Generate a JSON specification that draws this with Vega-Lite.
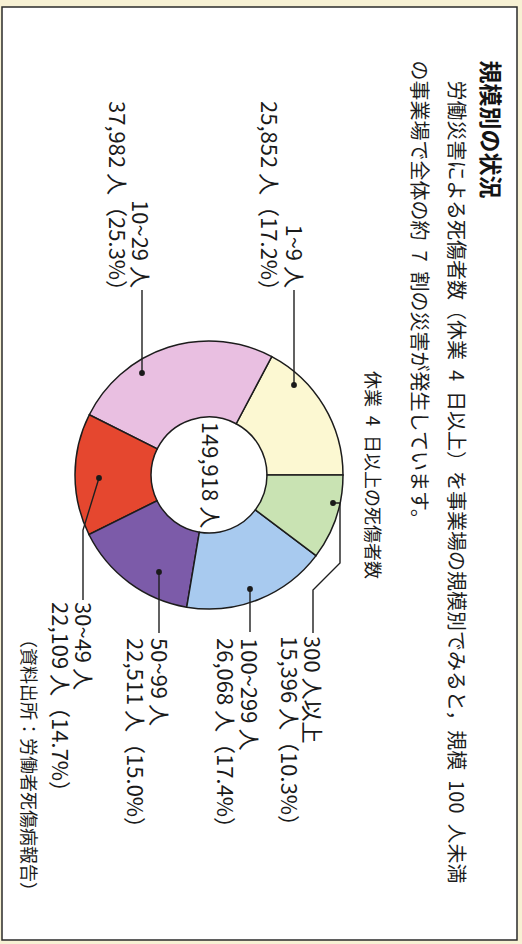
{
  "$schema": "https://vega.github.io/schema/vega-lite/v6.json",
  "width": 515,
  "height": 933,
  "autosize": {"type": "none"},
  "padding": {"left": 2, "top": 7, "right": 5, "bottom": 4},
  "background": "#f7f1d4",
  "config": {
    "view": {"fill": "#ffffff", "stroke": "#2b2b2b", "strokeWidth": 1.5},
    "font": "Noto Sans CJK JP",
    "text": {"font": "Noto Sans CJK JP", "color": "#1a1a1a"}
  },
  "title": {
    "text": "規模別の状況",
    "subtitle": [
      "\u200b\u3000労働災害による死傷者数（休業\u20024\u2002日以上）を事業場の規模別でみると，規模\u2002100\u2002人未満",
      "の事業場で全体の約\u20027\u2002割の災害が発生しています。"
    ],
    "orient": "right",
    "anchor": "start",
    "frame": "group",
    "offset": -109,
    "dx": 53.5,
    "font": "Noto Sans CJK JP",
    "fontSize": 23,
    "fontWeight": "bold",
    "color": "#141414",
    "subtitleFont": "Noto Sans CJK JP",
    "subtitleFontSize": 20,
    "subtitleColor": "#1c1c1c",
    "subtitleLineHeight": 37,
    "subtitlePadding": 12
  },
  "datasets": {
    "slices": [
      {"rank": 1, "size": "1~9 人", "count": 25852, "pct": 17.2, "label": "25,852 人（17.2%）"},
      {"rank": 2, "size": "10~29 人", "count": 37982, "pct": 25.3, "label": "37,982 人（25.3%）"},
      {"rank": 3, "size": "30~49 人", "count": 22109, "pct": 14.7, "label": "22,109 人（14.7%）"},
      {"rank": 4, "size": "50~99 人", "count": 22511, "pct": 15.0, "label": "22,511 人（15.0%）"},
      {"rank": 5, "size": "100~299 人", "count": 26068, "pct": 17.4, "label": "26,068 人（17.4%）"},
      {"rank": 6, "size": "300 人以上", "count": 15396, "pct": 10.3, "label": "15,396 人（10.3%）"}
    ],
    "leaders": [
      {"size": "1~9 人", "v": 1}, {"size": "1~9 人", "v": 2},
      {"size": "10~29 人", "v": 3}, {"size": "10~29 人", "v": 4},
      {"size": "30~49 人", "v": 5}, {"size": "30~49 人", "v": 6}, {"size": "30~49 人", "v": 7},
      {"size": "50~99 人", "v": 8}, {"size": "50~99 人", "v": 9},
      {"size": "100~299 人", "v": 10}, {"size": "100~299 人", "v": 11},
      {"size": "300 人以上", "v": 12}, {"size": "300 人以上", "v": 13}, {"size": "300 人以上", "v": 14},
      {"size": "300 人以上", "v": 15}, {"size": "300 人以上", "v": 16}
    ],
    "total": [{"text": "149,918 人"}],
    "notes": [{"text": "休業\u20024\u2002日以上の死傷者数"}],
    "source": [{"text": "（資料出所：労働者死傷病報告）"}]
  },
  "resolve": {"scale": {"x": "independent", "y": "independent"}},
  "layer": [
    {
      "data": {"name": "slices"},
      "encoding": {
        "x": {"datum": 0.40194, "type": "quantitative", "scale": {"domain": [0, 1], "zero": false, "nice": false}, "axis": null},
        "y": {"datum": 0.50161, "type": "quantitative", "scale": {"domain": [0, 1], "zero": false, "nice": false, "reverse": true}, "axis": null}
      },
      "layer": [
        {
          "mark": {"type": "arc", "radius": 134, "radius2": 58, "stroke": "#1c1c1c", "strokeWidth": 1.5},
          "encoding": {
            "theta": {"field": "count", "type": "quantitative", "stack": true, "scale": {"range": [1.5708, 7.854]}},
            "color": {
              "field": "size", "type": "nominal",
              "scale": {
                "domain": ["1~9 人", "10~29 人", "30~49 人", "50~99 人", "100~299 人", "300 人以上"],
                "range": ["#fcf8d2", "#e9bfe1", "#e5472f", "#7c5ba9", "#a8caef", "#c9e3b3"]
              },
              "legend": null
            },
            "order": {"field": "rank", "sort": "descending"}
          }
        },
        {
          "data": {"name": "total"},
          "mark": {"type": "text", "angle": 90, "fontSize": 22, "align": "center", "baseline": "middle"},
          "encoding": {"text": {"field": "text", "type": "nominal"}}
        },
        {
          "data": {"name": "notes"},
          "mark": {"type": "text", "angle": 90, "fontSize": 18, "align": "center", "baseline": "middle", "theta": 1.5708, "radius": 162},
          "encoding": {"text": {"field": "text", "type": "nominal"}}
        },
        {
          "data": {"name": "source"},
          "mark": {"type": "text", "angle": 90, "fontSize": 18, "align": "left", "baseline": "middle"},
          "encoding": {
            "x": {"datum": 0.0476, "type": "quantitative"},
            "y": {"datum": 0.6677, "type": "quantitative"},
            "text": {"field": "text", "type": "nominal"}
          }
        }
      ]
    },
    {
      "data": {"name": "leaders"},
      "encoding": {
        "x": {"field": "v", "type": "quantitative", "scale": {"domain": [1,2,3,4,5,6,7,8,9,10,11,12,13,14,15,16], "range": [292,292,140,140,97,81,81,157,157,248,248,331,338,338,311,311], "zero": false, "nice": false}, "axis": null},
        "y": {"field": "v", "type": "quantitative", "scale": {"domain": [1,2,3,4,5,6,7,8,9,10,11,12,13,14,15,16], "range": [378,283,366,283,471,523,593,565,626,582,625,496,496,556,583,626], "zero": false, "nice": false}, "axis": null}
      },
      "layer": [
        {
          "mark": {"type": "line", "color": "#1f1f1f", "strokeWidth": 1.4},
          "encoding": {"detail": {"field": "size", "type": "nominal"}, "order": {"field": "v", "type": "quantitative"}}
        },
        {
          "transform": [{"filter": {"field": "v", "oneOf": [1, 3, 5, 8, 10, 12]}}],
          "mark": {"type": "circle", "size": 34, "color": "#1a1a1a", "opacity": 1}
        }
      ]
    },
    {
      "data": {"name": "slices"},
      "transform": [{"filter": {"field": "rank", "oneOf": [1, 2]}}],
      "mark": {"type": "text", "angle": 90, "align": "right", "baseline": "middle", "fontSize": 22},
      "encoding": {
        "x": {"field": "rank", "type": "quantitative", "scale": {"domain": [1, 2], "range": [290.5, 137], "zero": false, "nice": false}, "axis": null},
        "y": {"field": "rank", "type": "quantitative", "scale": {"domain": [1, 2], "range": [281, 281], "zero": false, "nice": false}, "axis": null},
        "text": {"field": "size", "type": "nominal"}
      }
    },
    {
      "data": {"name": "slices"},
      "transform": [{"filter": {"field": "rank", "oneOf": [3, 4, 5, 6]}}],
      "mark": {"type": "text", "angle": 90, "align": "left", "baseline": "middle", "fontSize": 22},
      "encoding": {
        "x": {"field": "rank", "type": "quantitative", "scale": {"domain": [3, 4, 5, 6], "range": [80, 156, 246, 309], "zero": false, "nice": false}, "axis": null},
        "y": {"field": "rank", "type": "quantitative", "scale": {"domain": [3, 4, 5, 6], "range": [595, 631, 631, 629], "zero": false, "nice": false}, "axis": null},
        "text": {"field": "size", "type": "nominal"}
      }
    },
    {
      "data": {"name": "slices"},
      "mark": {"type": "text", "angle": 90, "align": "left", "baseline": "middle", "fontSize": 22},
      "encoding": {
        "x": {"field": "rank", "type": "quantitative", "scale": {"domain": [1, 2, 3, 4, 5, 6], "range": [266, 114, 57, 132, 222, 286], "zero": false, "nice": false}, "axis": null},
        "y": {"field": "rank", "type": "quantitative", "scale": {"domain": [1, 2, 3, 4, 5, 6], "range": [94, 94, 595, 631, 631, 629], "zero": false, "nice": false}, "axis": null},
        "text": {"field": "label", "type": "nominal"}
      }
    }
  ]
}
